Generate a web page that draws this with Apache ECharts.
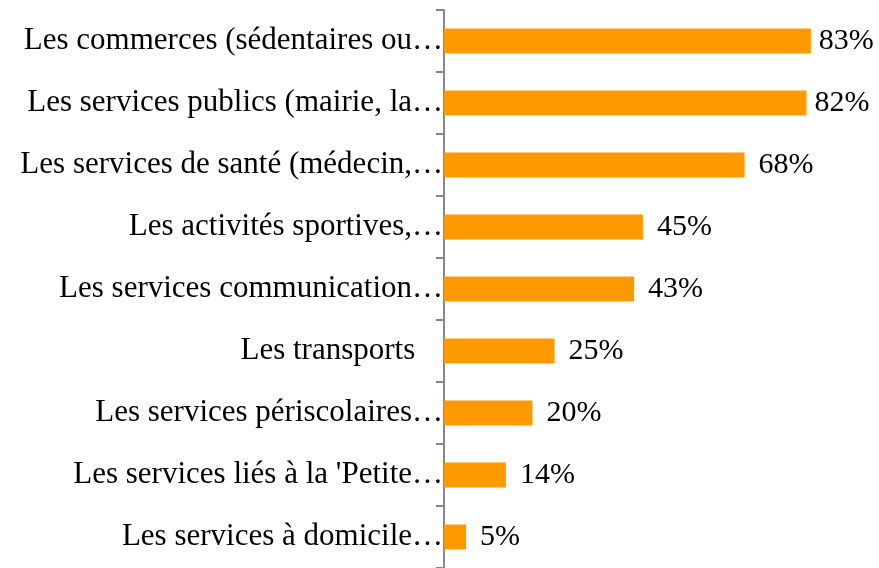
<html>
<head>
<meta charset="utf-8">
<title></title>
<style>
  body { margin: 0; background: #fff; }
  #main { width: 879px; height: 568px; }
</style>
</head>
<body>
<div id="main"></div>
<script src="https://cdn.jsdelivr.net/npm/echarts@6/dist/echarts.min.js"></script>
<script>
var categories = [
    'Les commerces (sédentaires ou…',
    'Les services publics (mairie, la…',
    'Les services de santé (médecin,…',
    'Les activités sportives,…',
    'Les services communication…',
    'Les transports ',
    'Les services périscolaires…',
    "Les services liés à la 'Petite…",
    'Les services à domicile…'
];
var values = [83, 82, 68, 45, 43, 25, 20, 14, 5];

var myChart = echarts.init(document.getElementById('main'));

// long bars sit close to the edge, their label is a bit tighter
var barData = values.map(function (v) {
    if (v > 80) {
        return { value: v, label: { distance: 8 } };
    }
    return v;
});

myChart.setOption({
    animation: false,
    textStyle: { fontFamily: '"Liberation Serif", "DejaVu Serif", serif' },
    grid: { left: 444, top: 10, width: 442, height: 558, containLabel: false, outerBoundsMode: 'none' },
    xAxis: {
        type: 'value',
        min: 0,
        max: 100,
        show: false
    },
    yAxis: {
        type: 'category',
        data: categories,
        inverse: true,
        axisLine: { show: true, lineStyle: { color: '#888', width: 2 } },
        axisTick: { show: true, length: 8, lineStyle: { color: '#888', width: 2 } },
        axisLabel: {
            margin: 1,
            color: '#000',
            fontSize: 31,
            fontFamily: '"Liberation Serif", serif',
            // a label ending with a space gets the wider gap it has in the original
            formatter: function (v) {
                return / $/.test(v) ? '{sp|' + v + '}' : v;
            },
            rich: {
                sp: { fontSize: 31, fontFamily: '"Liberation Serif", serif', color: '#000', padding: [0, 20, 0, 0] }
            }
        },
        splitLine: { show: false }
    },
    series: [{
        type: 'bar',
        data: barData,
        barWidth: 25,
        itemStyle: { color: '#FF9900' },
        label: {
            show: true,
            position: 'right',
            distance: 14,
            color: '#000',
            fontSize: 30,
            fontFamily: '"Liberation Serif", serif',
            formatter: '{c}%'
        }
    }]
});
</script>
</body>
</html>
